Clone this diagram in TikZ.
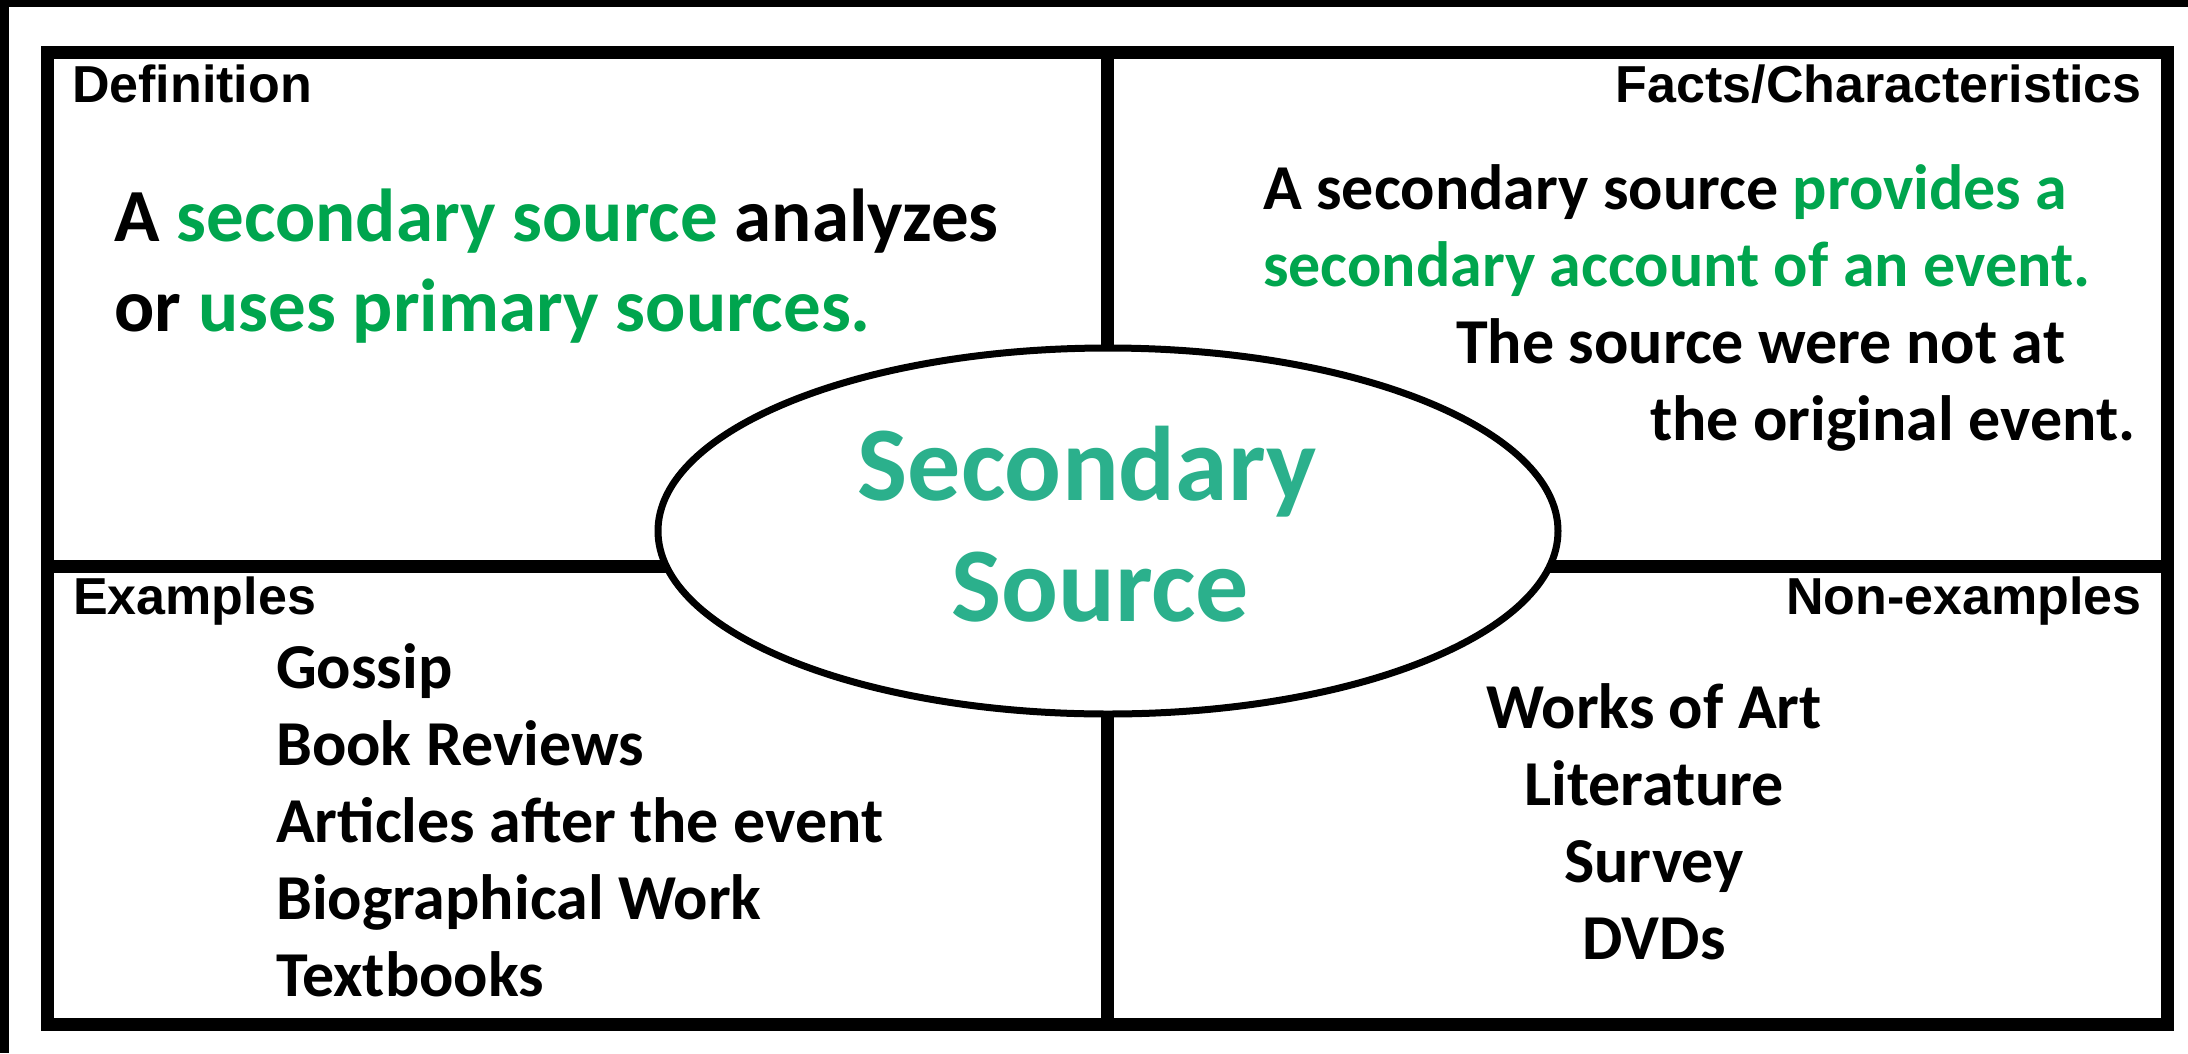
\documentclass[tikz,border=0pt]{standalone}
\usepackage{fontspec}
\setmainfont{Carlito}
\newfontfamily\headfont{Liberation Sans}
\usepackage{xcolor}
\usetikzlibrary{positioning,shapes.geometric}
\definecolor{keygreen}{RGB}{0,165,78}
\definecolor{titleteal}{RGB}{43,176,140}
\tikzstyle{frame}=[
  draw=black,
  line width=13pt,
]
\tikzstyle{oval}=[
  draw=black,
  ellipse,
  fill=white,
  inner sep=0pt,
  line width=7pt,
  minimum height=366pt,
  minimum width=900pt,
]
\tikzstyle{heading}=[
  anchor=base west,
  font={\headfont\bfseries\fontsize{52}{52}\selectfont},
  inner sep=0pt,
]
\tikzstyle{defline}=[
  anchor=base west,
  font={\bfseries\fontsize{75}{75}\selectfont},
  inner sep=0pt,
]
\tikzstyle{factline}=[
  anchor=base west,
  font={\bfseries\fontsize{64}{64}\selectfont},
  inner sep=0pt,
]
\tikzstyle{listline}=[
  anchor=base,
  font={\bfseries\fontsize{64}{64}\selectfont},
  inner sep=0pt,
]
\tikzstyle{titleline}=[
  anchor=base,
  color=titleteal,
  font={\bfseries\fontsize{106}{106}\selectfont},
  inner sep=0pt,
]
\tikzset{
  x=1pt,
  y=-1pt,
}

\begin{document}
\begin{tikzpicture}
      \useasboundingbox (0,0) rectangle (2188,1053);
      \fill [white] (0,0) rectangle (2188,1053);
      \fill [black] (0,0) rectangle (2188,7);
      \fill [black] (0,0) rectangle (9,1053);
      %%
      \coordinate (NW) at (47.5,52);
      \coordinate (SE) at (2167,1024.5);
      \coordinate (top) at (1107,52);
      \coordinate (bottom) at (1107,1024.5);
      \coordinate (left) at (47.5,566.5);
      \coordinate (right) at (2167,566.5);
      \draw [frame] (NW) rectangle (SE);
      \draw [frame] (top) -- (bottom);
      \draw [frame] (left) -- (right);
      %%
      \node (defhead) [heading] at (72,102) {Definition};
      \node (facthead) [heading, anchor=base east] at (2142,102) {Facts/Characteristics};
      \node (exhead) [heading] at (73,614) {Examples};
      \node (nonhead) [heading, anchor=base east] at (2142,614) {Non-examples};
      %%
      \node (def1) [defline] at (114,241)
        {A \textcolor{keygreen}{secondary source} analyzes};
      \node (def2) [below=90pt of def1.base west, defline]
        {or \textcolor{keygreen}{uses primary sources.}};
      %%
      \node (fact1) [factline] at (1263,209)
        {A secondary source \textcolor{keygreen}{provides a}};
      \node (fact2) [below=77pt of fact1.base west, factline, keygreen]
        {secondary account of an event.};
      \node (fact3) [factline] at (1456,363) {The source were not at};
      \node (fact4) [factline] at (1650,440) {the original event.};
      %%
      \node (ex1) [factline] at (276,688) {Gossip};
      \node (ex2) [below=77pt of ex1.base west, factline] {Book Reviews};
      \node (ex3) [below=77pt of ex2.base west, factline] {Articles after the event};
      \node (ex4) [below=77pt of ex3.base west, factline] {Biographical Work};
      \node (ex5) [below=77pt of ex4.base west, factline] {Textbooks};
      %%
      \node (non1) [listline] at (1654,728) {Works of Art};
      \node (non2) [below=77pt of non1.base, listline] {Literature};
      \node (non3) [below=77pt of non2.base, listline] {Survey};
      \node (non4) [below=77pt of non3.base, listline] {DVDs};
      %%
      \node (srcoval) [oval] at (1108,531) {};
      \node (title1) [titleline] at (1087,500) {Secondary};
      \node (title2) [titleline] at (1100,621) {Source};
    \end{tikzpicture}
\end{document}
